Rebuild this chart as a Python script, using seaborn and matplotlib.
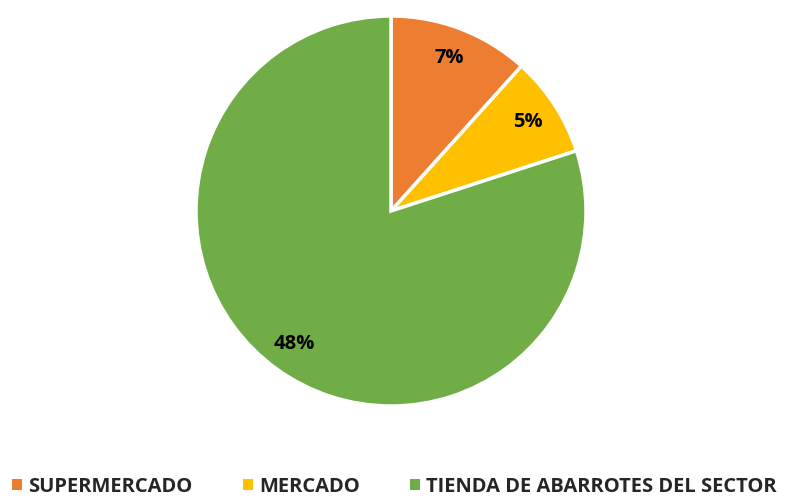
import matplotlib
matplotlib.use("Agg")
import matplotlib.pyplot as plt
import seaborn as sns
import numpy as np
from matplotlib.patches import Patch

sns.set_theme(style="white")
plt.rcParams['font.family'] = ['Open Sans', 'DejaVu Sans']

categories = ["SUPERMERCADO", "MERCADO", "TIENDA DE ABARROTES DEL SECTOR"]
values = [7, 5, 48]
labels = ["7%", "5%", "48%"]
colors = ["#ED7D31", "#FFC000", "#70AD47"]

fig = plt.figure(figsize=(7.89, 5.0), dpi=100)
ax = fig.add_axes([391/789 - 195/789, (500-211)/500 - 195/500, 390/789, 390/500])
wedges, _ = ax.pie(values, colors=colors, startangle=90, counterclock=False,
                   wedgeprops=dict(edgecolor="white", linewidth=2.5))
ax.set_xlim(-1, 1)
ax.set_ylim(-1, 1)
ax.set_aspect("equal")
ax.axis("off")
total = sum(values)
ang0 = 90.0
for v, lab in zip(values, labels):
    mid = ang0 - v / total * 360 / 2
    ang0 -= v / total * 360
    r = 0.84
    ax.text(r * np.cos(np.radians(mid)), r * np.sin(np.radians(mid)), lab,
            ha="center", va="center", fontsize=14.5, fontweight="bold", color="black")

handles = [Patch(facecolor=c, edgecolor="none") for c in colors]
fig.legend(handles, categories, loc="lower center", bbox_to_anchor=(0.5, -0.03), ncol=3,
           frameon=False, prop=dict(size=14.5, weight="bold"),
           handlelength=0.5, handleheight=0.5, handletextpad=0.3, columnspacing=2.5)
fig.savefig("out.png", dpi=100)
